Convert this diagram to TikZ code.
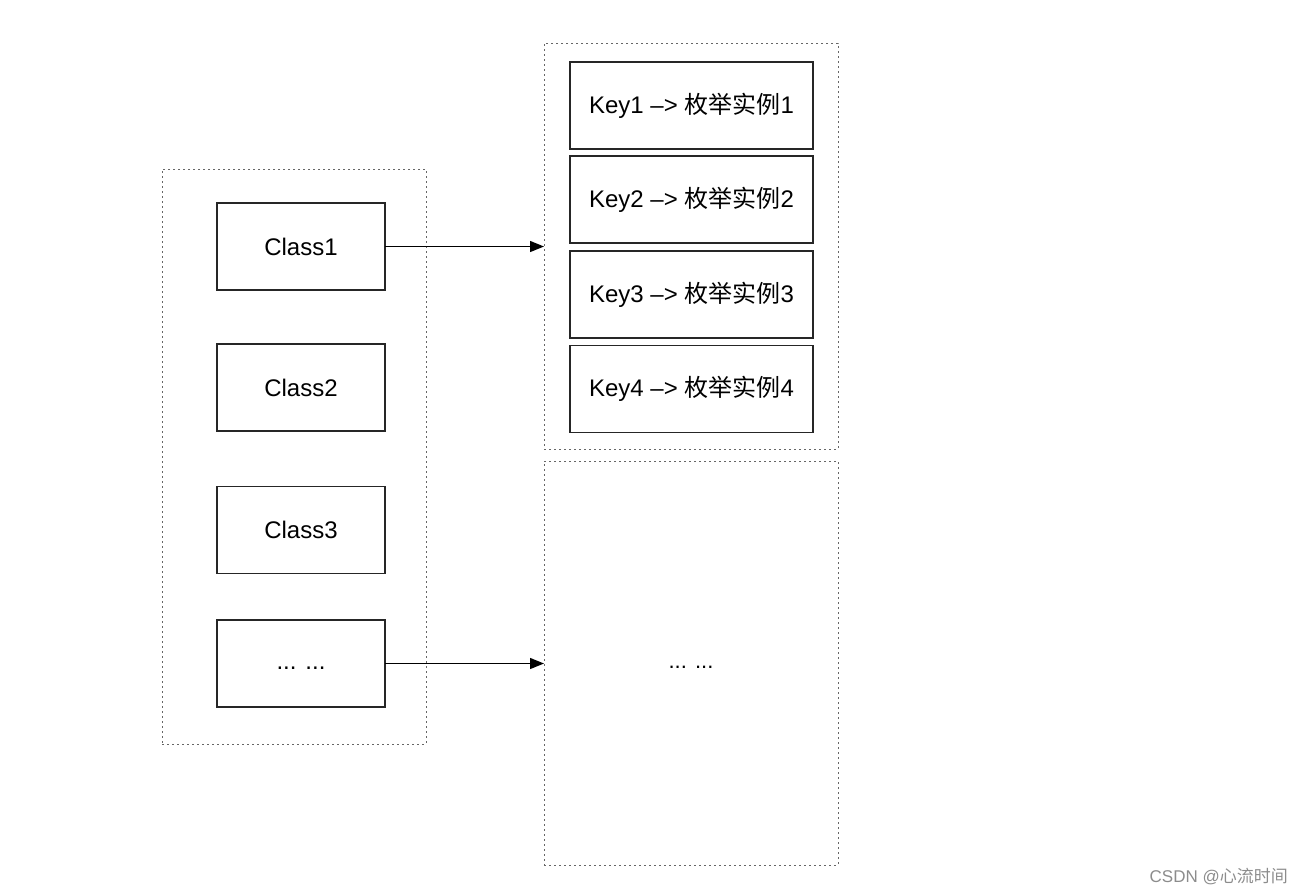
\documentclass[tikz,border=0pt]{standalone}
\usepackage{fontspec}
\setmainfont{Liberation Sans}
\newfontfamily\cjk{Noto Sans CJK SC}
\usetikzlibrary{arrows.meta}
\begin{document}
\begin{tikzpicture}[x=1pt,y=-1pt,
  box/.style={draw=black!85,line width=1.3pt,fill=white,inner sep=0pt,outer sep=0pt,font=\fontsize{24}{28}\selectfont},
  classbox/.style={box,minimum width=168pt,minimum height=87pt},
  keybox/.style={box,minimum width=243pt,minimum height=87pt},
  group/.style={draw=black!60,line width=1pt,dash pattern=on 2pt off 3pt,inner sep=0pt,outer sep=0pt},
  link/.style={draw=black,line width=1.3pt,-{Triangle[length=14pt,width=11pt]}}]
\useasboundingbox (0,0) rectangle (1302,895);
\node[group,minimum width=264pt,minimum height=575pt] (lgrp) at (294,456.5) {};
\node[group,minimum width=294pt,minimum height=406pt] (rtop) at (691,246) {};
\node[group,minimum width=294pt,minimum height=404pt,font=\fontsize{22}{26}\selectfont] (rbot) at (691,663) {\strut... ...};
\node[classbox] (c1) at (301,246.5) {Class1};
\node[classbox] (c2) at (301,387.5) {Class2};
\node[classbox] (c3) at (301,530) {Class3};
\node[classbox] (cd) at (301,663.5) {\strut... ...};
\node[keybox] (k1) at (691.5,105.5) {Key1 –> {\cjk 枚举实例}1};
\node[keybox] (k2) at (691.5,199.5) {Key2 –> {\cjk 枚举实例}2};
\node[keybox] (k3) at (691.5,294.5) {Key3 –> {\cjk 枚举实例}3};
\node[keybox] (k4) at (691.5,389) {Key4 –> {\cjk 枚举实例}4};
\draw[link] (c1.east) -- (c1.east -| rtop.west);
\draw[link] (cd.east) -- (cd.east -| rbot.west);
\node[text=black!45,font=\fontsize{17}{20}\selectfont,anchor=east,inner sep=0pt] (wm) at (1288,877) {CSDN @{\cjk 心流时间}};
\end{tikzpicture}
\end{document}
